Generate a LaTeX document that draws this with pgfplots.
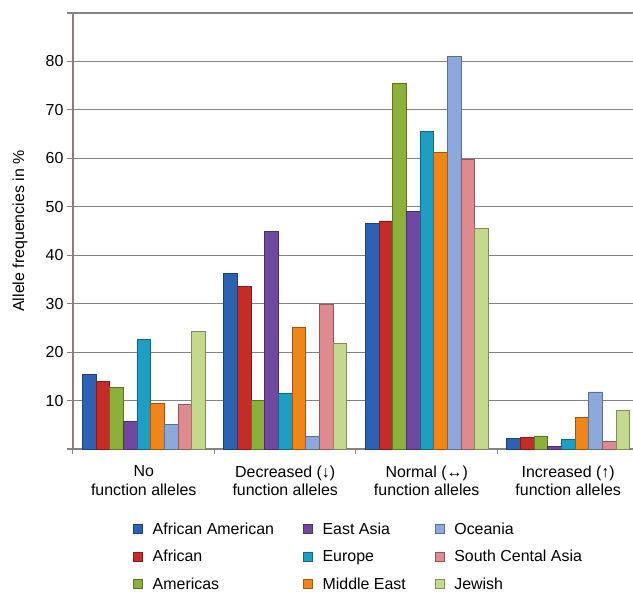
\documentclass[border=0pt]{standalone}
\usepackage{pgfplots}
\pgfplotsset{compat=1.18}
\usepackage{pgfplotstable}
\usepackage{fontspec}
\setmainfont{Liberation Sans}

\definecolor{cAA}{HTML}{2D62B2}
\definecolor{cAF}{HTML}{C42C28}
\definecolor{cAM}{HTML}{8DB03B}
\definecolor{cEA}{HTML}{6F489F}
\definecolor{cEU}{HTML}{209DC2}
\definecolor{cME}{HTML}{F0851B}
\definecolor{cOC}{HTML}{8DA9DB}
\definecolor{cSC}{HTML}{DE8B8F}
\definecolor{cJW}{HTML}{C4D98D}
\definecolor{axgray}{RGB}{138,128,128}

% allele frequencies in %, one row per function class
\pgfplotstableread{
x  aa   af   am   ea   eu   me   oc   sca  jw
0  15.4 13.9 12.7 5.7  22.7 9.4  5.1  9.2  24.3
1  36.2 33.6 10.0 44.9 11.6 25.1 2.7  29.8 21.8
2  46.6 47.1 75.5 49.0 65.5 61.2 81.0 59.8 45.6
3  2.2  2.4  2.7  0.6  2.0  6.5  11.8 1.6  7.9
}\alleles

\pgfplotsset{
  mybar/.style={
    fill=#1, draw=#1!65!black, line width=0.5bp,
    legend image code/.code={
      \draw[##1] (0bp,-4.5bp) rectangle (9bp,4.5bp);
    }
  }
}

\begin{document}
\begin{tikzpicture}
\path[use as bounding box] (-73bp,-145bp) rectangle (560bp,449bp);
\begin{axis}[
  at={(0,0)}, anchor=south west,
  scale only axis, width=560bp, height=436bp,
  font=\fontsize{16}{19}\selectfont,
  ybar=0pt, bar width=13.67bp,
  xmin=-0.5, xmax=3.458, ymin=0, ymax=90,
  axis x line*=bottom, axis y line*=left,
  axis line style={draw=axgray, line width=1.2bp},
  xtick={0,1,2,3},
  xticklabels={{No\\function alleles},{Decreased (↓)\\function alleles},{Normal (↔)\\function alleles},{Increased (↑)\\function alleles}},
  xticklabel style={align=center, font=\fontsize{16}{18.6}\selectfont, yshift=-7bp},
  major x tick style={draw=none},
  minor xtick={-0.5,0.5,1.5,2.5},
  minor x tick style={draw=axgray, line width=1bp},
  minor tick length=5bp,
  ytick={0,10,...,90},
  yticklabels={,10,20,30,40,50,60,70,80,},
  major tick length=6bp,
  tick align=outside,
  major y tick style={draw=axgray, line width=1.2bp},
  ymajorgrids,
  grid style={draw=axgray, line width=1.2bp},
  ylabel={Allele frequencies in \%},
  ylabel style={at={(axis description cs:-0.0946,0.5)}, anchor=center},
  legend columns=3, transpose legend,
  legend cell align=left,
  legend style={at={(axis description cs:0.51,-0.159)}, anchor=north,
    draw=none, fill=none, font=\fontsize{16}{19}\selectfont,
    row sep=10.5bp,
    /tikz/every odd column/.append style={column sep=8bp},
    /tikz/every even column/.append style={column sep=27bp}},
]
\addplot[mybar=cAA] table[x=x, y=aa] {\alleles};
\addplot[mybar=cAF] table[x=x, y=af] {\alleles};
\addplot[mybar=cAM] table[x=x, y=am] {\alleles};
\addplot[mybar=cEA] table[x=x, y=ea] {\alleles};
\addplot[mybar=cEU] table[x=x, y=eu] {\alleles};
\addplot[mybar=cME] table[x=x, y=me] {\alleles};
\addplot[mybar=cOC] table[x=x, y=oc] {\alleles};
\addplot[mybar=cSC] table[x=x, y=sca] {\alleles};
\addplot[mybar=cJW] table[x=x, y=jw] {\alleles};
\legend{African American,African,Americas,East Asia,Europe,Middle East,Oceania,South Cental Asia,Jewish}
\end{axis}
\end{tikzpicture}
\end{document}
